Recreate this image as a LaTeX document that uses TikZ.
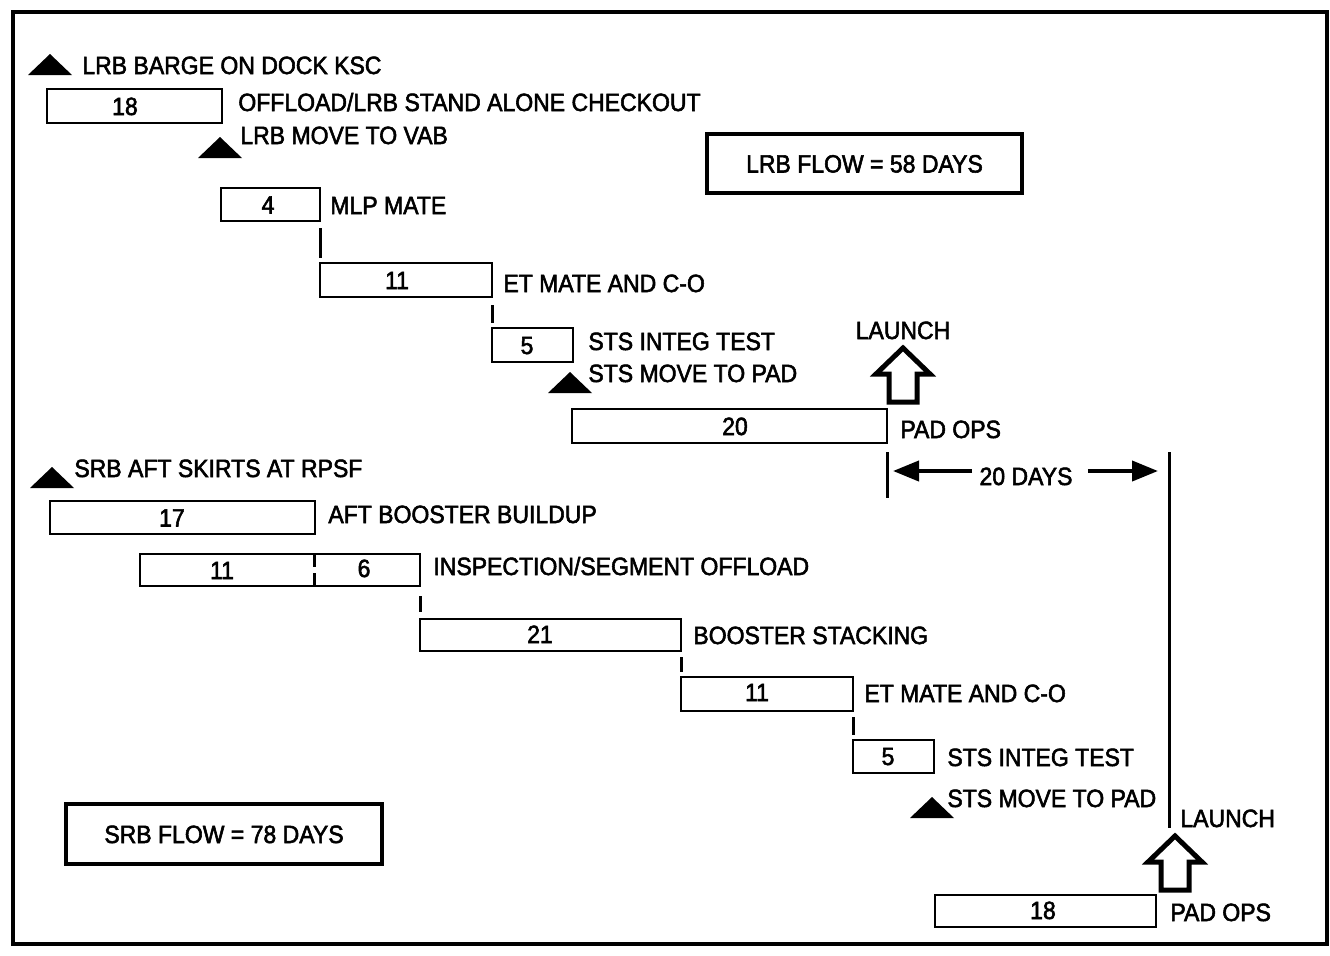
\documentclass[tikz,border=0pt]{standalone}
\usepackage{fontspec}
\setmainfont{Liberation Sans}[FakeStretch=0.92, FakeBold=2.2]
\usetikzlibrary{arrows.meta,fit}
\begin{document}
\begin{tikzpicture}[x=0.5pt,y=-0.5pt,
  txt/.style={inner sep=0pt, text height=9pt, text depth=0pt, font=\fontsize{12.5}{14}\selectfont},
  lbl/.style={txt, anchor=west},
  bar/.style={draw, line width=1.1pt, inner sep=0pt, outer sep=0pt},
  flow/.style={draw, line width=2pt, inner sep=0pt, outer sep=0pt},
  mile/.style={fill=black, line join=round},
  launch/.style={draw, line width=2.5pt, line join=miter},
  link/.style={line width=1.5pt},
  dim/.style={line width=2pt, -{Triangle[length=13pt,width=10pt]}},
]
\useasboundingbox (0,0) rectangle (1330,955);
% outer frame
\draw[line width=2.4pt] (13,12) rectangle (1327,944);

% ---------------- LRB flow ----------------
\coordinate (m1) at (50,54);
\fill[mile] (m1) -- ++(22,21) -- ++(-44,0) -- cycle;
\node[lbl] (l1) at (82,65) {LRB BARGE ON DOCK KSC};

\node[bar, fit={(47,89) (222,123)}] (b18) {};
\node[txt] at (125,106) {18};
\node[lbl] (l2) at (238,102) {OFFLOAD/LRB STAND ALONE CHECKOUT};

\coordinate (m2) at (220,137);
\fill[mile] (m2) -- ++(22,21) -- ++(-44,0) -- cycle;
\node[lbl] (l3) at (240,135) {LRB MOVE TO VAB};

\node[flow, fit={(707,134) (1022,193)}] (lrbflow) {};
\node[txt] at (lrbflow) {LRB FLOW = 58 DAYS};

\node[bar, fit={(221,188) (320,221)}] (b4) {};
\node[txt] at (268,204.5) {4};
\node[lbl] (l4) at (330,205) {MLP MATE};

\node[bar, fit={(320,263) (492,297)}] (b11) {};
\node[txt] at (397,280) {11};
\node[lbl] (l5) at (503,283) {ET MATE AND C-O};

\node[bar, fit={(492,328) (573,362)}] (b5) {};
\node[txt] at (527,345) {5};
\node[lbl] (l6) at (588,341) {STS INTEG TEST};

\coordinate (m3) at (570,372);
\fill[mile] (m3) -- ++(22,21) -- ++(-44,0) -- cycle;
\node[lbl] (l7) at (588,373) {STS MOVE TO PAD};

\node[bar, fit={(572,409) (887,443)}] (b20) {};
\node[txt] at (735,426) {20};
\node[lbl] (l8) at (900,429) {PAD OPS};

\node[txt] (launch1) at (903,330) {LAUNCH};
\coordinate (a1) at (903,348);
\draw[launch] (a1) -- ++(27,26) -- ++(-13,0) -- ++(0,28) -- ++(-28,0) -- ++(0,-28) -- ++(-13,0) -- cycle;

\draw[link] ([yshift=-3.5pt]b4.south east) -- ([yshift=2.5pt]b11.north west);
\draw[link] ([yshift=-4pt]b11.south east) -- ([yshift=2.5pt]b5.north west);
\draw[link] ([yshift=-4.5pt]b20.south east) -- ++(0,46);

% 20 days
\node[txt] (d20) at (1026,476) {20 DAYS};
\coordinate (dl) at (893,471);
\coordinate (dr) at (1158,471);
\draw[dim] ([xshift=-3.5pt]d20.west |- dl) -- (dl);
\draw[dim] ([xshift=7.5pt]d20.east |- dr) -- (dr);
\coordinate (e20) at (1169,452);
\coordinate (e20b) at (1169,828);
\draw[link] (e20) -- (e20b);

% ---------------- SRB flow ----------------
\coordinate (m4) at (52,467);
\fill[mile] (m4) -- ++(22,21) -- ++(-44,0) -- cycle;
\node[lbl] (s1) at (74,468) {SRB AFT SKIRTS AT RPSF};

\node[bar, fit={(50,501) (315,534)}] (s17) {};
\node[txt] at (172,517.5) {17};
\node[lbl] (s2) at (328,514) {AFT BOOSTER BUILDUP};

\node[bar, fit={(140,554) (420,586)}] (s116) {};
\draw[link] (314,554) -- (314,567);
\draw[link] (314,573) -- (314,586);
\node[txt] at (222,570) {11};
\node[txt] at (364,568) {6};
\node[lbl] (s3) at (433,566) {INSPECTION/SEGMENT OFFLOAD};

\node[bar, fit={(420,619) (681,651)}] (s21) {};
\node[txt] at (540,634) {21};
\node[lbl] (s4) at (693,635) {BOOSTER STACKING};

\node[bar, fit={(681,677) (853,711)}] (s11) {};
\node[txt] at (757,692) {11};
\node[lbl] (s5) at (864,693) {ET MATE AND C-O};

\node[bar, fit={(853,740) (934,773)}] (s5b) {};
\node[txt] at (888,756) {5};
\node[lbl] (s6) at (947,757) {STS INTEG TEST};

\coordinate (m5) at (932,797);
\fill[mile] (m5) -- ++(22,21) -- ++(-44,0) -- cycle;
\node[lbl] (s7) at (947,798) {STS MOVE TO PAD};

\node[flow, fit={(66,804) (382,864)}] (srbflow) {};
\node[txt] at (srbflow) {SRB FLOW = 78 DAYS};

\node[bar, fit={(935,895) (1156,927)}] (s18) {};
\node[txt] at (1043,910) {18};
\node[lbl] (s8) at (1170,912) {PAD OPS};

\node[lbl] (launch2) at (1180,818) {LAUNCH};
\coordinate (a2) at (1175,836);
\draw[launch] (a2) -- ++(27,26) -- ++(-13,0) -- ++(0,28) -- ++(-28,0) -- ++(0,-28) -- ++(-13,0) -- cycle;

\draw[link] ([yshift=-5pt]s116.south east) -- ([yshift=3.5pt]s21.north west);
\draw[link] ([yshift=-3pt]s21.south east) -- ([yshift=2.5pt]s11.north west);
\draw[link] ([yshift=-3pt]s11.south east) -- ([yshift=2.5pt]s5b.north west);
\end{tikzpicture}
\end{document}
